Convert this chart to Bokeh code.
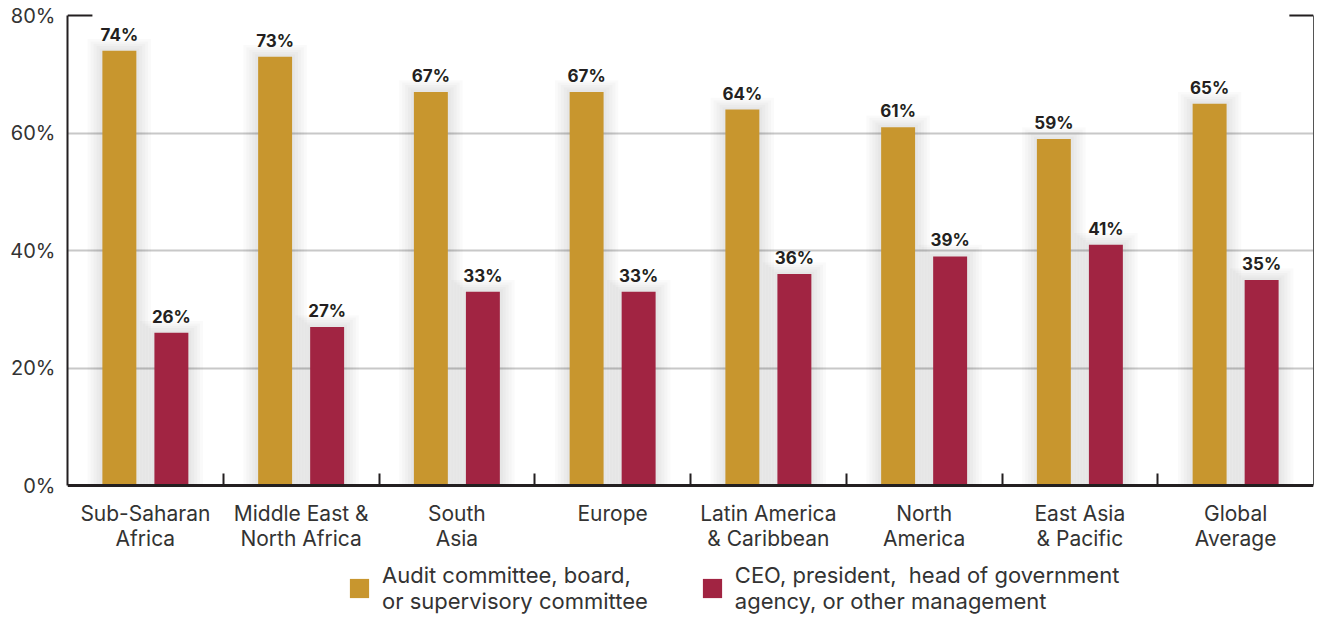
import numpy as np
from bokeh.plotting import figure
from bokeh.models import (ColumnDataSource, FixedTicker, LinearAxis, PrintfTickFormatter,
                          LabelSet, Legend, LegendItem, Range1d)
from bokeh.core.properties import value
from bokeh.embed import file_html
from bokeh.resources import INLINE

# ---- data ----
categories = ["Sub-Saharan\nAfrica", "Middle East &\nNorth Africa", "South\nAsia", "Europe",
              "Latin America\n& Caribbean", "North\nAmerica", "East Asia\n& Pacific", "Global\nAverage"]
audit = [74, 73, 67, 67, 64, 61, 59, 65]
ceo = [26, 27, 33, 33, 36, 39, 41, 35]
series_names = ["Audit committee, board,\nor supervisory committee",
                "CEO, president,  head of government\nagency, or other management"]
y_ticks = [0, 20, 40, 60, 80]

# ---- style ----
FONT = "Inter"
GOLD = "#C8962E"
RED = "#A12442"
DARK = "#231F20"
TXT = "#333333"

n = len(categories)
centers = np.arange(n) + 0.5
off = 0.167
bw = 0.218

src = ColumnDataSource(dict(
    xa=centers - off, xc=centers + off,
    audit=audit, ceo=ceo,
    audit_lbl=[f"{v}%" for v in audit], ceo_lbl=[f"{v}%" for v in ceo],
))

p = figure(width=1315, height=614, x_range=Range1d(0, n), y_range=Range1d(-21.95, 80.35),
           output_backend="svg", toolbar_location=None,
           min_border_left=67, min_border_top=13, min_border_bottom=0, min_border_right=2)
p.outline_line_color = None
p.background_fill_color = "white"

# soft shadows behind bars
for k in range(1, 6):
    p.vbar(x=centers - off, top=np.array(audit) + k * 0.4, width=bw + k * 0.038,
           fill_color="black", fill_alpha=0.02, line_color=None)
    p.vbar(x=centers + off, top=np.array(ceo) + k * 0.4, width=bw + k * 0.038,
           fill_color="black", fill_alpha=0.02, line_color=None)

r1 = p.vbar(x="xa", top="audit", width=bw, source=src, fill_color=GOLD, line_color=None)
r2 = p.vbar(x="xc", top="ceo", width=bw, source=src, fill_color=RED, line_color=None)

for xcol, ycol, tcol in (("xa", "audit", "audit_lbl"), ("xc", "ceo", "ceo_lbl")):
    p.add_layout(LabelSet(x=xcol, y=ycol, text=tcol, source=src, y_offset=6,
                          text_align="center", text_baseline="bottom",
                          text_font=value(FONT), text_font_size="17px",
                          text_font_style="bold", text_color=DARK))

# top corner pieces at 80%
p.segment(x0=[0, n - 0.155], x1=[0.16, n], y0=[80, 80], y1=[80, 80],
          line_color=[DARK, DARK], line_width=2)

# grid
p.xgrid.visible = False
p.ygrid.ticker = FixedTicker(ticks=y_ticks[1:-1])
p.ygrid.grid_line_color = "#C8C8C8"
p.ygrid.grid_line_width = 2

# y axis
ya = p.yaxis[0]
ya.ticker = FixedTicker(ticks=y_ticks)
ya.bounds = (0, 80)
ya.formatter = PrintfTickFormatter(format="%d%%")
ya.major_tick_out = 0
ya.major_tick_in = 0
ya.minor_tick_out = 0
ya.axis_line_color = DARK
ya.axis_line_width = 2
ya.major_label_text_font = FONT
ya.major_label_text_font_size = "20px"
ya.major_label_text_color = TXT
ya.major_label_standoff = 12

# x axis drawn at the 0% line
xa = p.xaxis[0]
xa.fixed_location = 0
xa.ticker = FixedTicker(ticks=list(centers), minor_ticks=list(range(1, n)))
xa.major_label_overrides = {float(c): lab for c, lab in zip(centers, categories)}
xa.major_tick_in = 0
xa.major_tick_out = 0
xa.minor_tick_in = 12
xa.minor_tick_out = 0
xa.minor_tick_line_color = DARK
xa.minor_tick_line_width = 2
xa.axis_line_color = DARK
xa.axis_line_width = 3
xa.major_label_text_font = FONT
xa.major_label_text_font_size = "21px"
xa.major_label_text_line_height = 1.0
xa.major_label_text_color = TXT
xa.major_label_standoff = 15

# right frame line
ra = LinearAxis(ticker=FixedTicker(ticks=[]), bounds=(0, 80),
                axis_line_color="#555555", axis_line_width=1,
                major_tick_in=0, major_tick_out=0, minor_tick_in=0, minor_tick_out=0)
p.add_layout(ra, "right")

# legend under the axis labels
leg = Legend(items=[LegendItem(label=series_names[0], renderers=[r1]),
                    LegendItem(label=series_names[1], renderers=[r2])],
             orientation="horizontal", location=(280, 0), spacing=52,
             glyph_width=24, glyph_height=24, label_standoff=11,
             label_text_font=FONT, label_text_font_size="22px", label_text_color=TXT,
             label_text_line_height=1.15,
             padding=0, margin=0, border_line_color=None, background_fill_alpha=0)
p.add_layout(leg, "center")

open("out.html", "w").write(file_html(p, INLINE))
